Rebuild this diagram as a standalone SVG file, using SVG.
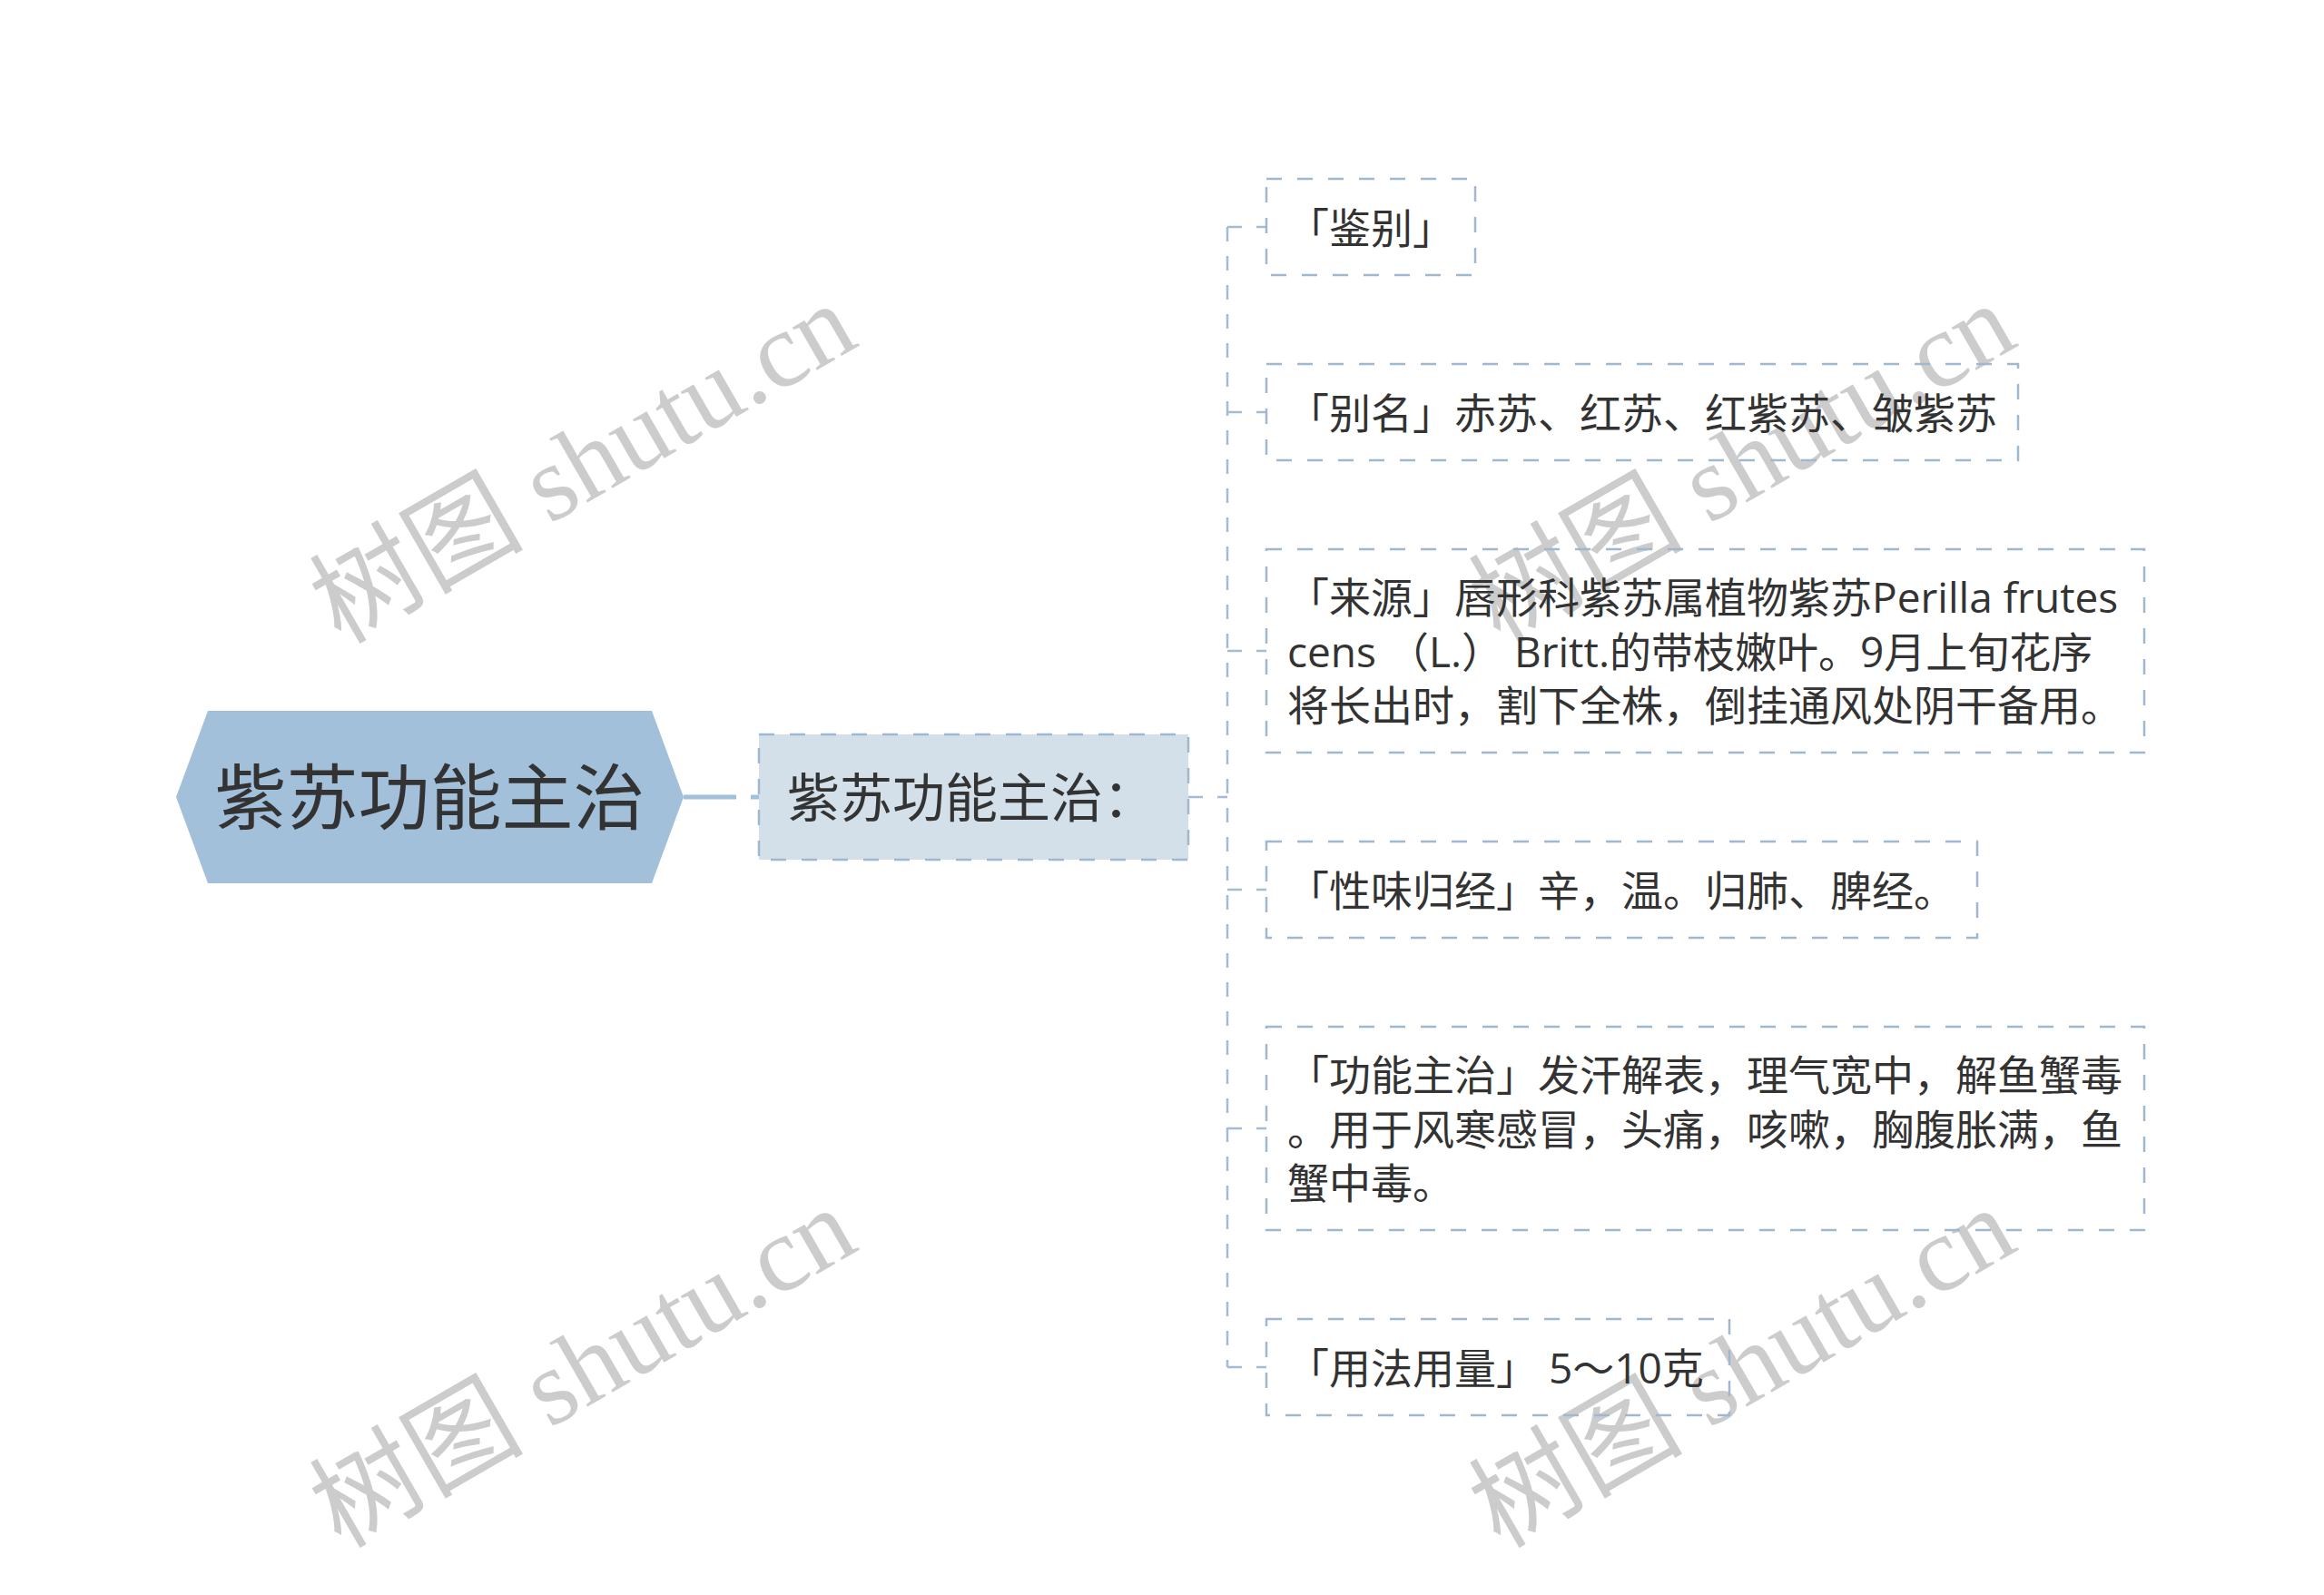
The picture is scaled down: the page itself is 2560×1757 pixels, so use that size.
<svg xmlns="http://www.w3.org/2000/svg" width="2560" height="1757" viewBox="0 0 2560 1757">
<style>
.leafbox{fill:none;stroke:#9fb8cf;stroke-width:2.5;stroke-dasharray:17 17}
.leaftext{font-family:'Open Sans','Noto Sans CJK SC',sans-serif;font-size:46px;fill:#333333}
.conn{fill:none;stroke:#a3bcd3;stroke-width:2.5;stroke-dasharray:16 16}
.wm{font-family:'Liberation Serif','Noto Sans CJK SC',serif;font-size:118px;fill:#cccccc}
</style>
<rect width="2560" height="1757" fill="#ffffff"/>
<g id="watermarks">
<text class="wm" text-anchor="middle" transform="translate(662,545) rotate(-30)">树图 shutu.cn</text>
<text class="wm" text-anchor="middle" transform="translate(1939,545) rotate(-30)">树图 shutu.cn</text>
<text class="wm" text-anchor="middle" transform="translate(662,1541) rotate(-30)">树图 shutu.cn</text>
<text class="wm" text-anchor="middle" transform="translate(1939,1541) rotate(-30)">树图 shutu.cn</text>
</g>
<g id="connectors">
<line x1="753" y1="878" x2="836" y2="878" stroke="#a3c0db" stroke-width="5" stroke-dasharray="58 16"/>
<line class="conn" x1="1309" y1="878" x2="1352" y2="878"/>
<line class="conn" x1="1352" y1="250" x2="1352" y2="1506"/>
<line class="conn" x1="1352" y1="250" x2="1395" y2="250"/>
<line class="conn" x1="1352" y1="454" x2="1395" y2="454"/>
<line class="conn" x1="1352" y1="717" x2="1395" y2="717"/>
<line class="conn" x1="1352" y1="980" x2="1395" y2="980"/>
<line class="conn" x1="1352" y1="1243" x2="1395" y2="1243"/>
<line class="conn" x1="1352" y1="1506" x2="1395" y2="1506"/>
</g>
<g id="root">
<polygon points="194,878 229,783 718,783 753,878 718,973 229,973" fill="#a3c0db"/>
<text x="473.5" y="908" text-anchor="middle" font-family="'Noto Sans CJK SC',sans-serif" font-size="79" fill="#333333">紫苏功能主治</text>
</g>
<g id="sub">
<rect x="836" y="809" width="473" height="138" fill="#d3e0ea" stroke="#9fb8cf" stroke-width="2.5" stroke-dasharray="17 17"/>
<text x="1070" y="900" text-anchor="middle" font-family="'Noto Sans CJK SC',sans-serif" font-size="58" fill="#333333">紫苏功能主治：</text>
</g>
<g id="leaf1">
<rect class="leafbox" x="1395" y="197" width="230" height="106"/>
<text class="leaftext" x="1418" y="267.5">「鉴别」</text>
</g>
<g id="leaf2">
<rect class="leafbox" x="1395" y="401" width="828" height="106"/>
<text class="leaftext" x="1418" y="471.5">「别名」赤苏、红苏、红紫苏、皱紫苏</text>
</g>
<g id="leaf3">
<rect class="leafbox" x="1395" y="605" width="967" height="224"/>
<text class="leaftext" x="1418" y="675">「来源」唇形科紫苏属植物紫苏Perilla frutes</text>
<text class="leaftext" x="1418" y="734.5">cens （L.） Britt.的带枝嫩叶。9月上旬花序</text>
<text class="leaftext" x="1418" y="794">将长出时，割下全株，倒挂通风处阴干备用。</text>
</g>
<g id="leaf4">
<rect class="leafbox" x="1395" y="927" width="783" height="106"/>
<text class="leaftext" x="1418" y="997.5">「性味归经」辛，温。归肺、脾经。</text>
</g>
<g id="leaf5">
<rect class="leafbox" x="1395" y="1131" width="967" height="224"/>
<text class="leaftext" x="1418" y="1201">「功能主治」发汗解表，理气宽中，解鱼蟹毒</text>
<text class="leaftext" x="1418" y="1260.5">。用于风寒感冒，头痛，咳嗽，胸腹胀满，鱼</text>
<text class="leaftext" x="1418" y="1320">蟹中毒。</text>
</g>
<g id="leaf6">
<rect class="leafbox" x="1395" y="1453" width="510" height="106"/>
<text class="leaftext" x="1418" y="1523.5">「用法用量」 5～10克</text>
</g>
</svg>
